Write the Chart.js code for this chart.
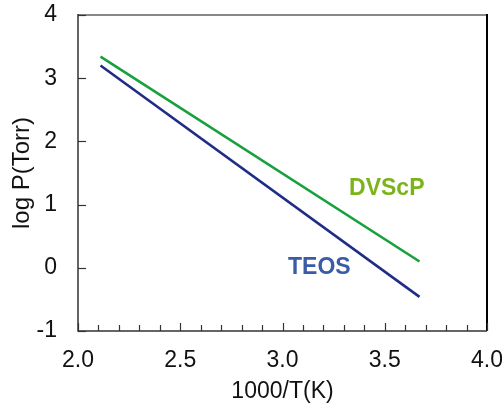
<!DOCTYPE html>
<html>
<head>
<meta charset="utf-8">
<script src="https://cdn.jsdelivr.net/npm/chart.js@4"></script>
<style>
html,body{margin:0;padding:0;background:#fff;}
#wrap{width:502px;height:406px;position:relative;}
</style>
</head>
<body>
<div id="wrap"><canvas id="c" width="502" height="406"></canvas></div>
<script>
// Data
const xValues = [2.11, 3.67];
const dvscp = [3.34, 0.10];
const teos = [3.20, -0.46];
const xTickLabels = ['2.0', '2.5', '3.0', '3.5', '4.0'];
const yTickLabels = ['-1', '0', '1', '2', '3', '4'];
const seriesNames = ['DVScP', 'TEOS'];
const labelX = [3.51, 3.18];
const labelY = [1.26, 0.0];

const FONT = '"Liberation Sans", Arial, sans-serif';
const colors = { dvscp: '#17a03c', teos: '#1f2d86' };
const labelColors = ['#7bb31a', '#3a5ba5'];

const axesPlugin = {
  id: 'axesPlugin',
  afterDraw(chart) {
    const ctx = chart.ctx;
    const xs = chart.scales.x, ys = chart.scales.y;
    const a = chart.chartArea;
    ctx.save();
    ctx.lineCap = 'butt';
    ctx.strokeStyle = '#888';
    ctx.lineWidth = 2;
    ctx.beginPath(); ctx.moveTo(a.left, a.top); ctx.lineTo(a.right, a.top); ctx.stroke();
    ctx.strokeStyle = '#000';
    ctx.beginPath(); ctx.moveTo(a.right, a.top - 1); ctx.lineTo(a.right, a.bottom); ctx.stroke();
    ctx.strokeStyle = '#333';
    ctx.lineWidth = 1.5;
    ctx.beginPath(); ctx.moveTo(a.left, a.top - 1); ctx.lineTo(a.left, a.bottom); ctx.lineTo(a.right, a.bottom); ctx.stroke();
    ctx.lineWidth = 1.2;
    for (let i = 0; i <= 20; i++) {
      const v = 2 + i * 0.1;
      const px = Math.round(xs.getPixelForValue(v)) + 0.5;
      const len = (i % 5 === 0) ? 8 : 6;
      ctx.beginPath(); ctx.moveTo(px, a.bottom); ctx.lineTo(px, a.bottom - len); ctx.stroke();
    }
    for (let i = 0; i < yTickLabels.length; i++) {
      const v = Number(yTickLabels[i]);
      const py = Math.round(ys.getPixelForValue(v)) + 0.5;
      ctx.beginPath(); ctx.moveTo(a.left, py); ctx.lineTo(a.left + 8, py); ctx.stroke();
    }
    ctx.font = 'bold 23px ' + FONT;
    ctx.textAlign = 'center';
    ctx.textBaseline = 'middle';
    for (let i = 0; i < seriesNames.length; i++) {
      ctx.fillStyle = labelColors[i];
      ctx.fillText(seriesNames[i], xs.getPixelForValue(labelX[i]), ys.getPixelForValue(labelY[i]));
    }
    ctx.restore();
  }
};

new Chart(document.getElementById('c'), {
  type: 'scatter',
  data: {
    datasets: [
      { label: seriesNames[0], data: xValues.map((x, i) => ({ x, y: dvscp[i] })), showLine: true,
        borderColor: colors.dvscp, borderWidth: 2.6, pointRadius: 0, fill: false },
      { label: seriesNames[1], data: xValues.map((x, i) => ({ x, y: teos[i] })), showLine: true,
        borderColor: colors.teos, borderWidth: 2.6, pointRadius: 0, fill: false }
    ]
  },
  options: {
    responsive: false,
    animation: false,
    devicePixelRatio: 1,
    layout: { padding: { top: 15, right: 15, left: 0, bottom: 0 } },
    plugins: { legend: { display: false }, tooltip: { enabled: false } },
    scales: {
      x: {
        type: 'linear', min: 2, max: 4,
        grid: { display: false, drawTicks: false },
        border: { display: false },
        ticks: { stepSize: 0.5, padding: 16, color: '#111', font: { family: FONT, size: 23 },
          callback: (v) => { const s = v.toFixed(1); return xTickLabels.includes(s) ? s : ''; } },
        title: { display: true, text: '1000/T(K)', color: '#111', font: { family: FONT, size: 23 }, padding: { top: 0, bottom: 1 } },
        afterFit: (s) => { s.height = 75; s.paddingLeft = 0; s.paddingRight = 0; }
      },
      y: {
        type: 'linear', min: -1, max: 4,
        grid: { display: false, drawTicks: false },
        border: { display: false },
        ticks: { stepSize: 1, padding: 21, color: '#111', font: { family: FONT, size: 23 },
          callback: (v) => { const s = String(v); return yTickLabels.includes(s) ? s : ''; } },
        title: { display: true, text: 'log P(Torr)', color: '#111', font: { family: FONT, size: 24 }, padding: { top: 8, bottom: 0 } },
        afterFit: (s) => { s.width = 78; s.paddingTop = 0; s.paddingBottom = 0; }
      }
    }
  },
  plugins: [axesPlugin]
});
</script>
</body>
</html>
